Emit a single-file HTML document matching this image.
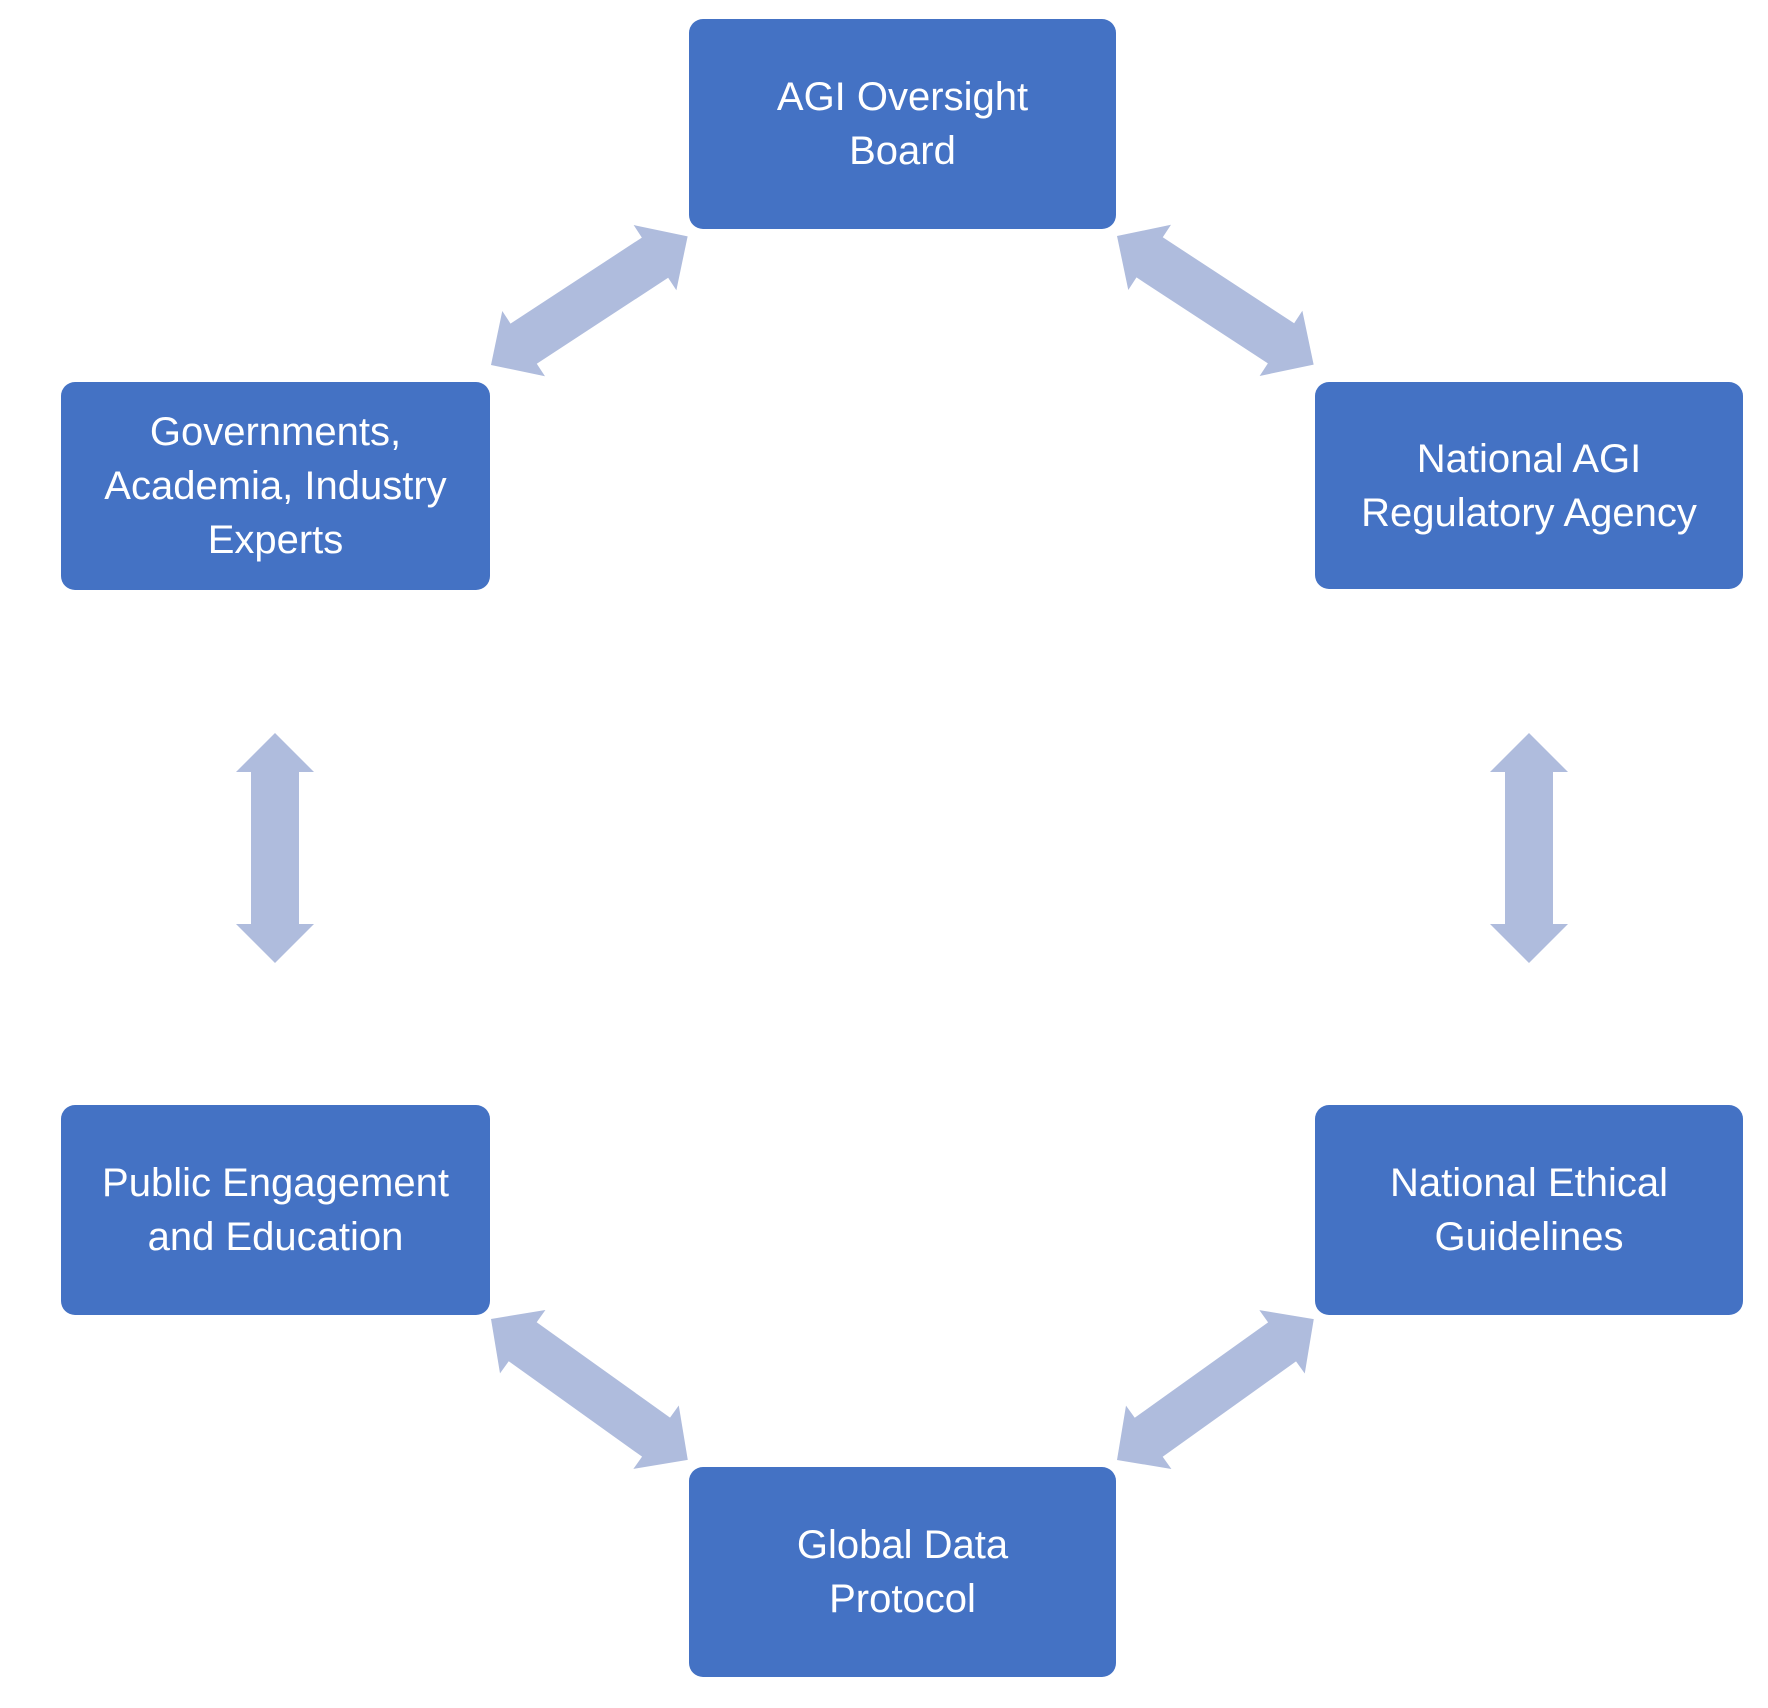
<!DOCTYPE html>
<html><head><meta charset="utf-8"><style>
html,body{margin:0;padding:0;background:#fff;}
.wrap{position:relative;width:1768px;height:1708px;overflow:hidden;}
.box{position:absolute;background:#4472C4;border-radius:14px;color:#fff;display:flex;align-items:center;justify-content:center;text-align:center;font-family:"Liberation Sans",sans-serif;font-size:40px;line-height:54px;}
svg{position:absolute;left:0;top:0;}
</style></head><body><div class="wrap">
<svg width="1768" height="1708">
<defs><polygon id="a" points="0,0 39,-39 39,-24 -39,-24 -39,-39 0,0" /></defs>
<g fill="#AFBCDD">
<polygon transform="translate(275,733) rotate(90)" points="0,0 39,-39 39,-24 191,-24 191,-39 230,0 191,39 191,24 39,24 39,39"/>
<polygon transform="translate(1529,733) rotate(90)" points="0,0 39,-39 39,-24 191,-24 191,-39 230,0 191,39 191,24 39,24 39,39"/>
<polygon transform="translate(491,365) rotate(-33.2)" points="0,0 39,-39 39,-24 196,-24 196,-39 235,0 196,39 196,24 39,24 39,39"/>
<polygon transform="translate(1117,236) rotate(33.2)" points="0,0 39,-39 39,-24 196,-24 196,-39 235,0 196,39 196,24 39,24 39,39"/>
<polygon transform="translate(491,1319) rotate(35.6)" points="0,0 39,-39 39,-24 203,-24 203,-39 242,0 203,39 203,24 39,24 39,39"/>
<polygon transform="translate(1117,1460) rotate(-35.6)" points="0,0 39,-39 39,-24 203,-24 203,-39 242,0 203,39 203,24 39,24 39,39"/>
</g>
</svg>
<div class="box" style="left:689px;top:19px;width:427px;height:210px;">AGI Oversight<br>Board</div>
<div class="box" style="left:61px;top:382px;width:429px;height:208px;">Governments,<br>Academia, Industry<br>Experts</div>
<div class="box" style="left:1315px;top:382px;width:428px;height:207px;">National AGI<br>Regulatory Agency</div>
<div class="box" style="left:61px;top:1105px;width:429px;height:210px;">Public Engagement<br>and Education</div>
<div class="box" style="left:1315px;top:1105px;width:428px;height:210px;">National Ethical<br>Guidelines</div>
<div class="box" style="left:689px;top:1467px;width:427px;height:210px;">Global Data<br>Protocol</div>
</div></body></html>
